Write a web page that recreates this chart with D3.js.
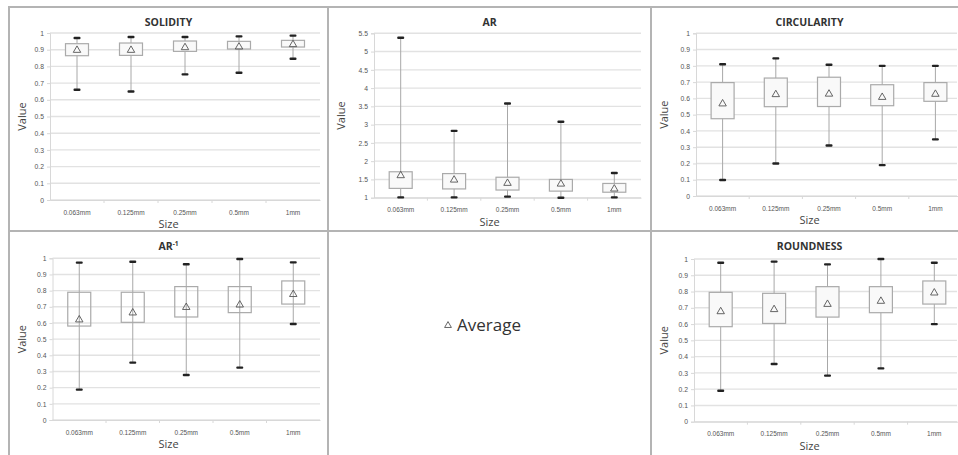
<!DOCTYPE html>
<html>
<head>
<meta charset="utf-8">
<script src="https://cdn.jsdelivr.net/npm/d3@7"></script>
<style>
  body { margin: 0; background: #fff; }
  svg { display: block; font-family: "Open Sans", sans-serif; }
</style>
</head>
<body>
<svg id="chart" width="958" height="455"></svg>
<script>
var sizes = ["0.063mm", "0.125mm", "0.25mm", "0.5mm", "1mm"];

// whisker low, box low, box high, whisker high, average
var solidityMin = [0.66, 0.65, 0.752, 0.762, 0.846];
var solidityQ1  = [0.864, 0.866, 0.89, 0.904, 0.916];
var solidityQ3  = [0.936, 0.94, 0.952, 0.95, 0.956];
var solidityMax = [0.97, 0.976, 0.976, 0.98, 0.984];
var solidityAvg = [0.90, 0.90, 0.916, 0.92, 0.934];

var arMin = [1.01, 1.01, 1.03, 1.0, 1.01];
var arQ1  = [1.255, 1.24, 1.21, 1.18, 1.15];
var arQ3  = [1.71, 1.66, 1.56, 1.50, 1.39];
var arMax = [5.38, 2.83, 3.58, 3.08, 1.675];
var arAvg = [1.62, 1.50, 1.41, 1.39, 1.255];

var circMin = [0.098, 0.20, 0.31, 0.19, 0.348];
var circQ1  = [0.475, 0.549, 0.55, 0.555, 0.582];
var circQ3  = [0.697, 0.725, 0.73, 0.684, 0.697];
var circMax = [0.81, 0.846, 0.807, 0.80, 0.80];
var circAvg = [0.57, 0.627, 0.63, 0.61, 0.629];

var arInvMin = [0.188, 0.355, 0.278, 0.324, 0.594];
var arInvQ1  = [0.581, 0.604, 0.637, 0.664, 0.717];
var arInvQ3  = [0.79, 0.79, 0.825, 0.825, 0.86];
var arInvMax = [0.973, 0.979, 0.963, 0.996, 0.975];
var arInvAvg = [0.623, 0.666, 0.70, 0.715, 0.78];

var roundMin = [0.19, 0.355, 0.283, 0.328, 0.60];
var roundQ1  = [0.584, 0.604, 0.643, 0.67, 0.723];
var roundQ3  = [0.795, 0.789, 0.83, 0.83, 0.865];
var roundMax = [0.977, 0.984, 0.967, 1.0, 0.977];
var roundAvg = [0.68, 0.693, 0.725, 0.744, 0.795];

var solidityTicks = d3.range(0, 1.0001, 0.1);
var arTicks = d3.range(1, 5.5001, 0.5);

var svg = d3.select("#chart");

var panels = [
    {title: "SOLIDITY", min: solidityMin, q1: solidityQ1, q3: solidityQ3, max: solidityMax, avg: solidityAvg,
     domain: [0, 1], ticks: solidityTicks, px: [9, 328], py: [7, 231], x: [50, 320], y: [200, 33], fill: "#f9f9f9"},
    {title: "AR", min: arMin, q1: arQ1, q3: arQ3, max: arMax, avg: arAvg,
     domain: [1, 5.5], ticks: arTicks, px: [328, 651], py: [7, 231], x: [374, 641], y: [197.7, 33.3], fill: "#f9f9f9"},
    {title: "CIRCULARITY", min: circMin, q1: circQ1, q3: circQ3, max: circMax, avg: circAvg,
     domain: [0, 1], ticks: solidityTicks, px: [651, 968], py: [7, 231], x: [696, 962], y: [196, 33.3], fill: "#f9f9f9"},
    {title: "AR", sup: "-1", min: arInvMin, q1: arInvQ1, q3: arInvQ3, max: arInvMax, avg: arInvAvg,
     domain: [0, 1], ticks: solidityTicks, px: [9, 328], py: [231, 462], x: [52.5, 320], y: [420, 258.3], fill: "none"},
    {title: "ROUNDNESS", min: roundMin, q1: roundQ1, q3: roundQ3, max: roundMax, avg: roundAvg,
     domain: [0, 1], ticks: solidityTicks, px: [651, 968], py: [231, 462], x: [694, 961], y: [421.7, 259], fill: "#f9f9f9"}
];

// panel frames
var frames = [[9, 7, 319, 224], [328, 7, 323, 224], [651, 7, 317, 224],
              [9, 231, 319, 231], [328, 231, 323, 231], [651, 231, 317, 231]];
svg.selectAll("rect.frame")
    .data(frames)
    .enter()
    .append("rect")
    .attr("class", "frame")
    .attr("x", function(d) { return d[0]; })
    .attr("y", function(d) { return d[1]; })
    .attr("width", function(d) { return d[2]; })
    .attr("height", function(d) { return d[3]; })
    .attr("fill", "none")
    .attr("stroke", "#b4b4b4")
    .attr("stroke-width", 2);

function triangle(g, cx, cy, size) {
    g.append("path")
        .attr("d", d3.symbol().type(d3.symbolTriangle).size(size || 24))
        .attr("transform", "translate(" + cx + "," + (cy + 0.5) + ")")
        .attr("fill", "none")
        .attr("stroke", "#555")
        .attr("stroke-width", 0.9);
}

panels.forEach(function(p) {
    var g = svg.append("g");

    var x = d3.scaleBand().domain(sizes).range(p.x);
    var y = d3.scaleLinear().domain(p.domain).range(p.y);

    // gridlines
    g.selectAll("line.grid")
        .data(p.ticks)
        .enter()
        .append("line")
        .attr("x1", p.x[0]).attr("x2", Math.min(p.x[1], 957))
        .attr("y1", function(d) { return y(d); })
        .attr("y2", function(d) { return y(d); })
        .attr("stroke", "#e2e2e2")
        .attr("stroke-width", 1.4);

    // y axis
    var yAxis = g.append("g")
        .attr("transform", "translate(" + p.x[0] + ",0)")
        .call(d3.axisLeft(y).tickValues(p.ticks).tickSize(3).tickPadding(3)
            .tickFormat(function(d) { return d3.format("~g")(+d.toFixed(2)); }));
    yAxis.select(".domain").attr("stroke", "#d8d8d8");
    yAxis.selectAll(".tick line").attr("stroke", "#d8d8d8");
    yAxis.selectAll("text").attr("fill", "#555").attr("font-size", 6.8);

    // x axis
    var xAxis = g.append("g")
        .attr("transform", "translate(0," + p.y[0] + ")")
        .call(d3.axisBottom(x).tickSize(0).tickPadding(10));
    xAxis.select(".domain").attr("stroke", "#d8d8d8");
    xAxis.selectAll("text").attr("fill", "#555").attr("font-size", 6.5);
    g.selectAll("line.xtick")
        .data(sizes.slice(1))
        .enter()
        .append("line")
        .attr("x1", function(d) { return x(d); })
        .attr("x2", function(d) { return x(d); })
        .attr("y1", p.y[0]).attr("y2", p.y[0] + 3)
        .attr("stroke", "#d8d8d8");

    var bw = 23;
    sizes.forEach(function(s, i) {
        var cx = x(s) + x.bandwidth() / 2;
        if (p.fill !== "none") {
            g.append("line")
                .attr("x1", cx).attr("x2", cx)
                .attr("y1", y(p.max[i])).attr("y2", y(p.min[i]))
                .attr("stroke", "#a8a8a8").attr("stroke-width", 1);
        }
        g.append("rect")
            .attr("x", cx - bw / 2)
            .attr("y", y(p.q3[i]))
            .attr("width", bw)
            .attr("height", y(p.q1[i]) - y(p.q3[i]))
            .attr("fill", p.fill)
            .attr("stroke", "#aaa")
            .attr("stroke-width", 1.2);
        if (p.fill === "none") {
            g.append("line")
                .attr("x1", cx).attr("x2", cx)
                .attr("y1", y(p.max[i])).attr("y2", y(p.min[i]))
                .attr("stroke", "#a8a8a8").attr("stroke-width", 1);
        }
        [p.max[i], p.min[i]].forEach(function(v) {
            g.append("rect")
                .attr("x", cx - 3.5).attr("y", y(v) - 1.2)
                .attr("width", 7).attr("height", 2.4)
                .attr("rx", 1)
                .attr("fill", "#222");
        });
        triangle(g, cx, y(p.avg[i]));
    });

    var mid = (p.px[0] + p.px[1]) / 2;
    var t = g.append("text")
        .attr("x", mid).attr("y", p.py[0] + 19)
        .attr("text-anchor", "middle")
        .attr("font-size", 10.5).attr("font-weight", "bold")
        .attr("fill", "#333")
        .text(p.title);
    if (p.sup) {
        t.append("tspan").attr("font-size", 6.5).attr("dy", -4).text(p.sup);
    }

    g.append("text")
        .attr("x", mid).attr("y", p.y[0] + 28)
        .attr("text-anchor", "middle")
        .attr("font-size", 11).attr("fill", "#444")
        .text("Size");

    g.append("text")
        .attr("transform", "translate(" + (p.px[0] + 17) + "," + ((p.y[0] + p.y[1]) / 2) + ") rotate(-90)")
        .attr("text-anchor", "middle")
        .attr("font-size", 11).attr("fill", "#444")
        .text("Value");
});

// legend
var lg = svg.append("g");
triangle(lg, 448, 325, 20);
lg.append("text")
    .attr("x", 457).attr("y", 331)
    .attr("font-size", 17)
    .attr("fill", "#333")
    .text("Average");
</script>
</body>
</html>
